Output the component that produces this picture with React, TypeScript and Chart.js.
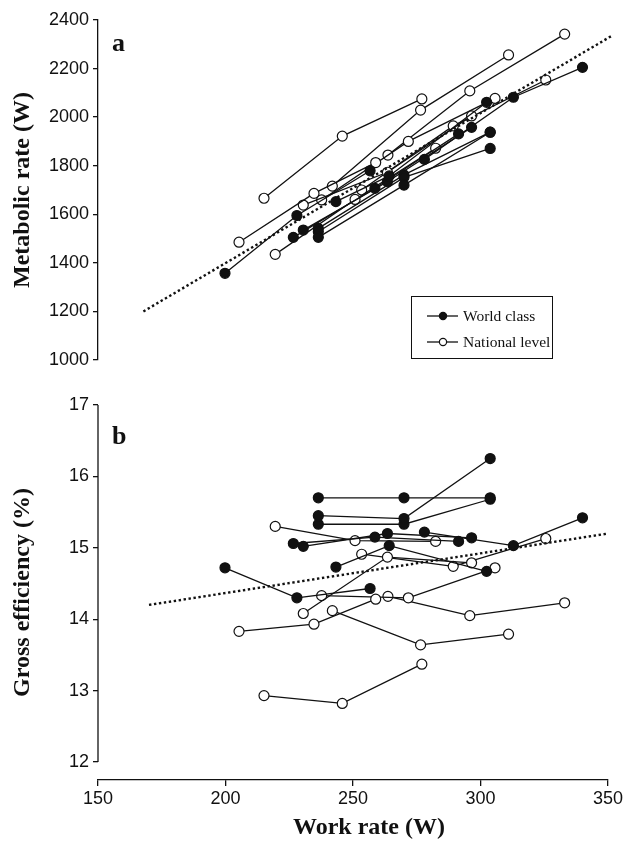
import React, { useEffect, useRef } from "react";
import { Chart, registerables } from "chart.js";

Chart.register(...registerables);

// ---- tick labels ----
const workTicks = [150, 200, 250, 300, 350];
const metabolicTicks = [1000, 1200, 1400, 1600, 1800, 2000, 2200, 2400];
const efficiencyTicks = [12, 13, 14, 15, 16, 17];

// ---- World class athletes (one row per athlete) ----
const worldWork = [
  [236.4, 270, 303.8],
  [236.4, 270, 303.8],
  [236.4, 270, 303.8],
  [199.8, 228, 256.7],
  [243.3, 264.2, 302.4],
  [226.6, 258.6, 291.4],
  [230.5, 263.5, 296.5],
  [278, 312.9, 340],
];
const worldMetabolic = [
  [1505, 1720, 1938],
  [1528, 1752, 1871],
  [1542, 1762, 1938],
  [1357, 1595, 1779],
  [1652, 1758, 2061],
  [1505, 1707, 1931],
  [1535, 1734, 1958],
  [1826, 2082, 2205],
];
const worldEfficiency = [
  [15.7, 15.7, 15.7],
  [15.45, 15.41, 16.25],
  [15.33, 15.33, 15.68],
  [14.72, 14.3, 14.43],
  [14.73, 15.03, 14.67],
  [15.06, 15.15, 15.09],
  [15.02, 15.2, 15.14],
  [15.22, 15.03, 15.42],
];

// ---- National level athletes ----
const nationalWork = [
  [215.1, 245.8, 277],
  [205.3, 234.7, 258.9],
  [219.5, 250.8, 282.4],
  [230.5, 263.5, 296.5],
  [237.7, 271.7, 305.7],
  [241.9, 276.5, 311],
  [263.7, 295.8, 333],
  [253.4, 289.3, 325.6],
];
const nationalMetabolic = [
  [1666, 1922, 2075],
  [1485, 1686, 1813],
  [1435, 1661, 1872],
  [1638, 1773, 2005],
  [1659, 1900, 2077],
  [1716, 2029, 2256],
  [1844, 2108, 2342],
  [1700, 1964, 2153],
];
const nationalEfficiency = [
  [12.93, 12.82, 13.37],
  [13.83, 13.93, 14.28],
  [15.3, 15.1, 15.09],
  [14.08, 14.87, 14.79],
  [14.33, 14.3, 14.72],
  [14.12, 13.64, 13.79],
  [14.32, 14.05, 14.23],
  [14.91, 14.74, 15.13],
];

// ---- regression (dotted) lines ----
const fitMetabolicWork = [167.8, 352];
const fitMetabolicValue = [1200, 2338];
const fitEfficiencyWork = [170, 350];
const fitEfficiencyValue = [14.2, 15.2];

const INK = "#111";
const SANS = "'Liberation Sans', Arial, Helvetica, sans-serif";
const SERIF = "'Liberation Serif', 'Times New Roman', serif";

function athleteSets(work: number[][], values: number[][], filled: boolean) {
  return work.map((xs, i) => ({
    data: xs.map((x, j) => ({ x, y: values[i][j] })),
    showLine: true,
    borderColor: INK,
    borderWidth: 1.3,
    pointRadius: 5,
    pointHoverRadius: 5,
    pointBorderWidth: 1.2,
    pointBorderColor: INK,
    pointBackgroundColor: filled ? INK : "#fff",
    tension: 0,
    fill: false,
  }));
}

function fitSet(xs: number[], ys: number[]) {
  return {
    data: xs.map((x, j) => ({ x, y: ys[j] })),
    showLine: true,
    borderColor: INK,
    borderWidth: 2.4,
    borderDash: [2.4, 2.6],
    pointRadius: 0,
    tension: 0,
    fill: false,
    clip: false as const,
  };
}

const fixedTicks = (vals: number[]) => (scale: any) => {
  scale.ticks = vals.map((v) => ({ value: v }));
};
const plainLabel = (v: any) => String(v);

const yAxisLinePlugin = {
  id: "yAxisLine",
  afterDraw(chart: any) {
    const y = chart.scales.y;
    const ctx = chart.ctx;
    const x = chart.chartArea.left;
    ctx.save();
    ctx.strokeStyle = INK;
    ctx.lineWidth = 1.3;
    ctx.beginPath();
    ctx.moveTo(x, y.getPixelForValue(efficiencyTicks[efficiencyTicks.length - 1]));
    ctx.lineTo(x, y.getPixelForValue(efficiencyTicks[0]));
    ctx.stroke();
    ctx.restore();
  },
};

export default function App() {
  const refA = useRef<HTMLCanvasElement>(null);
  const refB = useRef<HTMLCanvasElement>(null);

  useEffect(() => {
    const tickFont = { family: SANS, size: 18 };
    const titleFont = { family: SERIF, size: 24, weight: "bold" as const };

    const chartA = new Chart(refA.current!, {
      type: "scatter",
      data: {
        datasets: [
          fitSet(fitMetabolicWork, fitMetabolicValue),
          ...athleteSets(worldWork, worldMetabolic, true),
          ...athleteSets(nationalWork, nationalMetabolic, false),
        ] as any,
      },
      options: {
        animation: false,
        responsive: false,
        devicePixelRatio: 1,
        layout: { padding: { top: 20, bottom: 20, left: 0, right: 20 } },
        plugins: { legend: { display: false }, tooltip: { enabled: false } },
        events: [],
        scales: {
          x: { type: "linear", min: 150, max: 350, display: false },
          y: {
            type: "linear",
            min: 1000,
            max: 2400,
            afterBuildTicks: fixedTicks(metabolicTicks),
            afterFit: (s: any) => {
              s.width = 98;
            },
            ticks: { font: tickFont, color: INK, padding: 4, callback: plainLabel },
            grid: { display: true, drawOnChartArea: false, drawTicks: true, tickLength: 5, color: INK, lineWidth: 1.3 },
            border: { display: true, color: INK, width: 1.3 },
            title: { display: true, text: "Metabolic rate (W)", font: titleFont, color: INK, padding: { top: 8, bottom: 0 } },
          },
        },
      },
    });

    const chartB = new Chart(refB.current!, {
      type: "scatter",
      data: {
        datasets: [
          fitSet(fitEfficiencyWork, fitEfficiencyValue),
          ...athleteSets(worldWork, worldEfficiency, true),
          ...athleteSets(nationalWork, nationalEfficiency, false),
        ] as any,
      },
      options: {
        animation: false,
        responsive: false,
        devicePixelRatio: 1,
        layout: { padding: { top: 25, bottom: 0, left: 0, right: 20 } },
        plugins: { legend: { display: false }, tooltip: { enabled: false } },
        events: [],
        scales: {
          x: {
            type: "linear",
            min: 150,
            max: 350,
            afterBuildTicks: fixedTicks(workTicks),
            afterFit: (s: any) => {
              s.height = 63;
            },
            ticks: { font: tickFont, color: INK, padding: 2, callback: plainLabel },
            grid: { display: true, drawOnChartArea: false, drawTicks: true, tickLength: 6, color: INK, lineWidth: 1.3 },
            border: { display: true, color: INK, width: 1.3 },
            title: { display: false },
          },
          y: {
            type: "linear",
            min: 11.748,
            max: 17,
            afterBuildTicks: fixedTicks(efficiencyTicks),
            afterFit: (s: any) => {
              s.width = 98;
            },
            ticks: { font: tickFont, color: INK, padding: 4, callback: plainLabel },
            grid: { display: true, drawOnChartArea: false, drawTicks: true, tickLength: 5, color: INK, lineWidth: 1.3 },
            border: { display: false },
            title: { display: true, text: "Gross efficiency (%)", font: titleFont, color: INK, padding: { top: 8, bottom: 0 } },
          },
        },
      },
      plugins: [yAxisLinePlugin],
    });

    return () => {
      chartA.destroy();
      chartB.destroy();
    };
  }, []);

  const panelLabel: React.CSSProperties = {
    position: "absolute",
    fontFamily: SERIF,
    fontWeight: "bold",
    fontSize: 26,
    color: INK,
    lineHeight: "26px",
  };
  const legendRow: React.CSSProperties = {
    position: "absolute",
    left: 0,
    height: 20,
    display: "flex",
    alignItems: "center",
    fontFamily: SERIF,
    fontSize: 15.5,
    color: INK,
    whiteSpace: "nowrap",
  };

  const symbol = (filled: boolean) => (
    <svg width={46} height={20} style={{ display: "block" }}>
      <line x1={15} y1={10} x2={47} y2={10} stroke={INK} strokeWidth={1.3} />
      <circle cx={31} cy={10} r={3.6} fill={filled ? INK : "#fff"} stroke={INK} strokeWidth={1.2} />
    </svg>
  );

  return (
    <div style={{ position: "fixed", left: 0, top: 0, width: 628, height: 843, background: "#fff", overflow: "hidden" }}>
      <canvas ref={refA} width={628} height={380} style={{ position: "absolute", left: 0, top: 0 }} />
      <canvas ref={refB} width={628} height={463} style={{ position: "absolute", left: 0, top: 380 }} />
      <div style={{ ...panelLabel, left: 112, top: 30 }}>a</div>
      <div style={{ ...panelLabel, left: 112, top: 423 }}>b</div>
      <div
        style={{
          position: "absolute",
          left: 293,
          top: 811,
          fontFamily: SERIF,
          fontWeight: "bold",
          fontSize: 24,
          lineHeight: "30px",
          color: INK,
          whiteSpace: "nowrap",
        }}
      >
        Work rate (W)
      </div>
      <div
        style={{
          position: "absolute",
          left: 411,
          top: 296,
          width: 142,
          height: 63,
          border: `1px solid ${INK}`,
          boxSizing: "border-box",
        }}
      >
        <div style={{ ...legendRow, top: 9 }}>
          {symbol(true)}
          <span style={{ marginLeft: 5 }}>World class</span>
        </div>
        <div style={{ ...legendRow, top: 35 }}>
          {symbol(false)}
          <span style={{ marginLeft: 5 }}>National level</span>
        </div>
      </div>
    </div>
  );
}
